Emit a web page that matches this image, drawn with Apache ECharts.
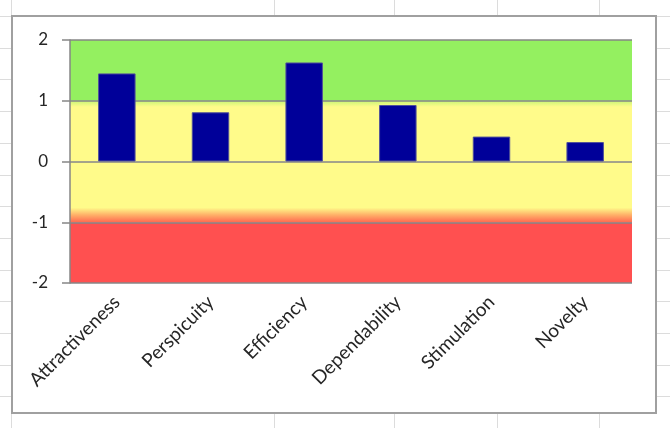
<!DOCTYPE html>
<html>
<head>
<meta charset="utf-8">
<script src="https://cdn.jsdelivr.net/npm/echarts@6/dist/echarts.min.js"></script>
<style>
  html, body { margin: 0; padding: 0; background: #fff; }
  #chart { width: 670px; height: 428px; }
</style>
</head>
<body>
<div id="chart"></div>
<script>
// UEQ scales and their mean values
const categories = ['Attractiveness', 'Perspicuity', 'Efficiency', 'Dependability', 'Stimulation', 'Novelty'];
const means = [1.45, 0.81, 1.63, 0.93, 0.41, 0.32];
const yTicks = [-2, -1, 0, 1, 2];

// spreadsheet cell lines behind the chart (decoration only)
const colLines = [11, 274, 394, 497, 599];
const rowStep = 31.7;

const chart = echarts.init(document.getElementById('chart'));

const sheet = [];
colLines.forEach(x => {
  sheet.push({ type: 'line', z: -20, shape: { x1: x + 0.5, y1: 0, x2: x + 0.5, y2: 428 },
    style: { stroke: '#dcdcdc', lineWidth: 1 } });
});
for (let y = 16; y < 428; y += rowStep) {
  sheet.push({ type: 'line', z: -20, shape: { x1: 0, y1: Math.round(y) + 0.5, x2: 670, y2: Math.round(y) + 0.5 },
    style: { stroke: '#dcdcdc', lineWidth: 1 } });
}
// chart area box
sheet.push({ type: 'rect', z: -10, shape: { x: 12, y: 16, width: 644, height: 397 },
  style: { fill: '#fff', stroke: '#a0a0a0', lineWidth: 2 } });

const green = '#94f060';
const yellow = '#fffb8a';
const red = '#ff5050';

const option = {
  animation: false,
  textStyle: { fontFamily: 'Lato' },
  graphic: sheet,
  grid: { left: 70, right: 38, top: 40, bottom: 145, containLabel: false },
  xAxis: {
    type: 'category',
    data: categories,
    axisLine: { show: false, onZero: false },
    axisTick: { show: false },
    axisLabel: {
      rotate: 45,
      margin: 16,
      fontSize: 19,
      color: '#262626',
      fontFamily: 'Lato'
    }
  },
  yAxis: {
    type: 'value',
    min: -2,
    max: 2,
    interval: 1,
    axisLine: { show: true, lineStyle: { color: '#868686', width: 1.5 } },
    axisTick: { show: true, length: 8, lineStyle: { color: '#868686', width: 1.5 } },
    axisLabel: {
      margin: 22,
      fontSize: 17,
      color: '#262626',
      fontFamily: 'Lato',
      formatter: v => (yTicks.indexOf(v) >= 0 ? String(v) : '')
    },
    splitLine: { show: true, lineStyle: { color: '#868686', width: 1.5 } },
    splitArea: {
      show: true,
      areaStyle: {
        color: [
          red,
          new echarts.graphic.LinearGradient(0, 0, 0, 1, [
            { offset: 0, color: yellow },
            { offset: 0.76, color: yellow },
            { offset: 0.88, color: '#ffb068' },
            { offset: 1, color: '#ff6a50' }
          ]),
          new echarts.graphic.LinearGradient(0, 0, 0, 1, [
            { offset: 0, color: '#c8f676' },
            { offset: 0.1, color: yellow },
            { offset: 1, color: yellow }
          ]),
          green
        ]
      }
    }
  },
  series: [{
    name: 'Mean',
    type: 'bar',
    data: means,
    barWidth: '40%',
    itemStyle: {
      color: '#000099',
      borderColor: '#50509a',
      borderWidth: 1
    }
  }]
};

chart.setOption(option);
</script>
</body>
</html>
